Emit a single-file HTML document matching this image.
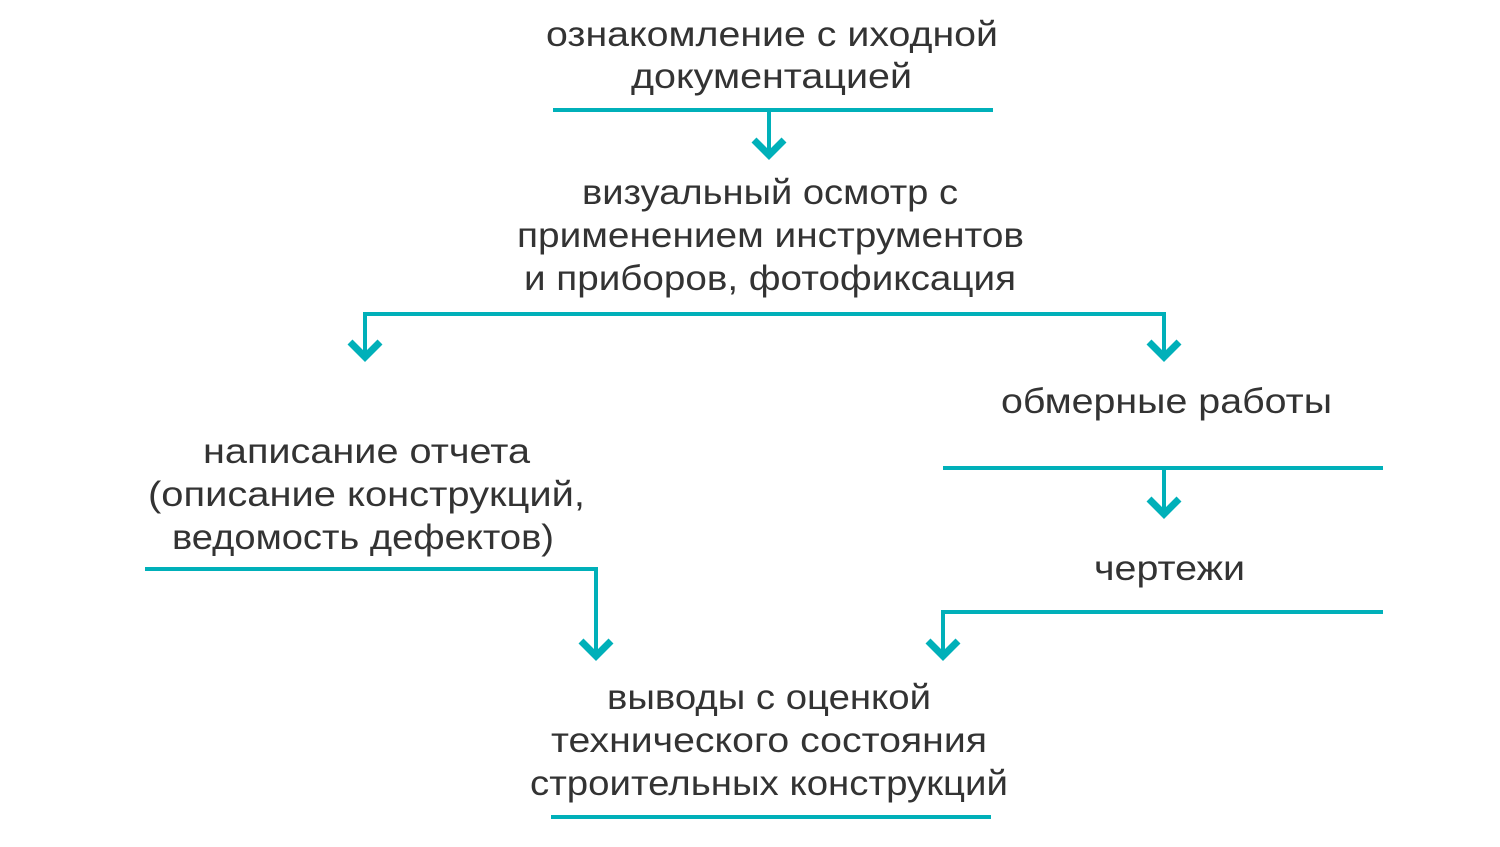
<!DOCTYPE html>
<html><head><meta charset="utf-8"><style>
html,body{margin:0;padding:0;background:#fff;width:1500px;height:847px;overflow:hidden}
text{font-family:"Liberation Sans",sans-serif;font-size:35px;fill:#333}
</style></head><body>
<svg width="1500" height="847" viewBox="0 0 1500 847" xmlns="http://www.w3.org/2000/svg">
<g stroke="#00b0b9" stroke-width="4" fill="none">
<line x1="553" y1="110" x2="993" y2="110"/>
<line x1="769" y1="110" x2="769" y2="152"/>
<polyline points="754,140 769,155 784,140" stroke-width="7"/>
<polyline points="365,358 365,314 1164,314 1164,358"/>
<polyline points="350,342 365,357 380,342" stroke-width="7"/>
<polyline points="1149,342 1164,357 1179,342" stroke-width="7"/>
<line x1="943" y1="468" x2="1383" y2="468"/>
<line x1="1164" y1="468" x2="1164" y2="511"/>
<polyline points="1149,499 1164,514 1179,499" stroke-width="7"/>
<polyline points="1383,612 943,612 943,654"/>
<polyline points="928,641 943,656 958,641" stroke-width="7"/>
<polyline points="145,569 596,569 596,654"/>
<polyline points="581,641 596,656 611,641" stroke-width="7"/>
<line x1="551" y1="817" x2="991" y2="817"/>
</g>
<text x="546" y="46" textLength="452" lengthAdjust="spacingAndGlyphs">ознакомление с иходной</text>
<text x="631" y="88" textLength="281" lengthAdjust="spacingAndGlyphs">документацией</text>
<text x="582" y="204" textLength="376" lengthAdjust="spacingAndGlyphs">визуальный осмотр с</text>
<text x="517" y="247" textLength="507" lengthAdjust="spacingAndGlyphs">применением инструментов</text>
<text x="524" y="290" textLength="492" lengthAdjust="spacingAndGlyphs">и приборов, фотофиксация</text>
<text x="1001" y="413" textLength="331" lengthAdjust="spacingAndGlyphs">обмерные работы</text>
<text x="203" y="463" textLength="327" lengthAdjust="spacingAndGlyphs">написание отчета</text>
<text x="148" y="506" textLength="437" lengthAdjust="spacingAndGlyphs">(описание конструкций,</text>
<text x="172" y="549" textLength="382" lengthAdjust="spacingAndGlyphs">ведомость дефектов)</text>
<text x="1094" y="580" textLength="151" lengthAdjust="spacingAndGlyphs">чертежи</text>
<text x="607" y="709" textLength="324" lengthAdjust="spacingAndGlyphs">выводы с оценкой</text>
<text x="551" y="752" textLength="436" lengthAdjust="spacingAndGlyphs">технического состояния</text>
<text x="530" y="795" textLength="478" lengthAdjust="spacingAndGlyphs">строительных конструкций</text>
</svg>
</body></html>
